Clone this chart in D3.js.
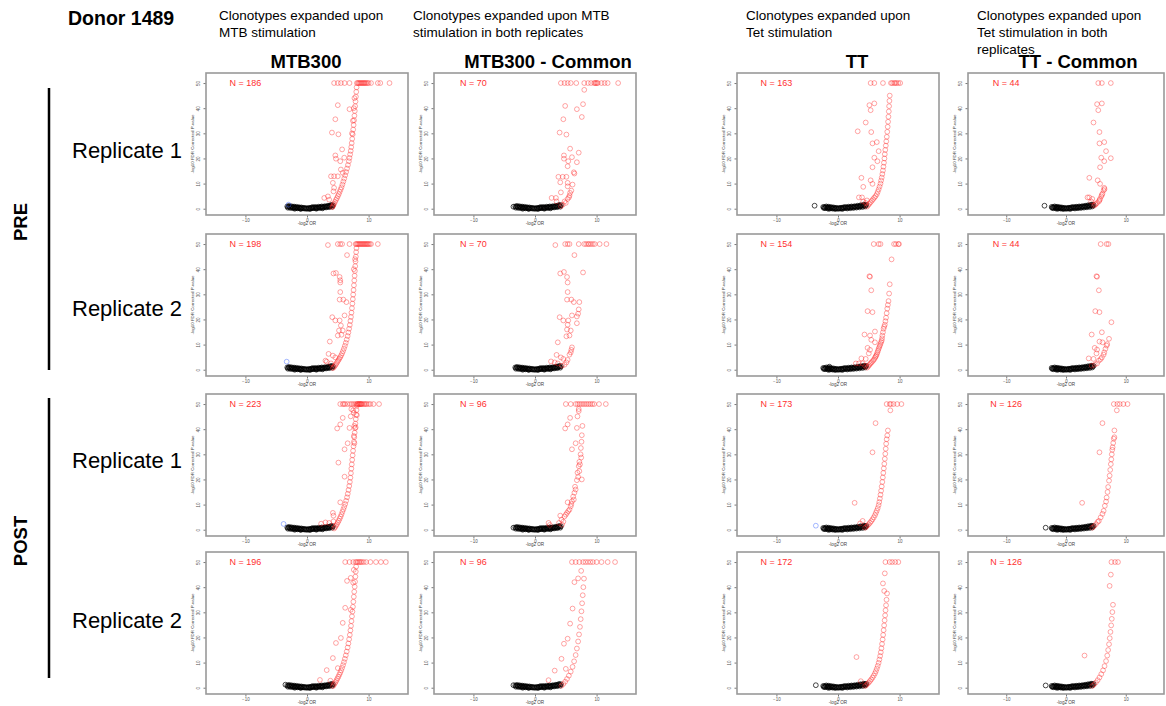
<!DOCTYPE html>
<html>
<head>
<meta charset="utf-8">
<script src="https://cdn.jsdelivr.net/npm/d3@7"></script>
<style>
  body { margin: 0; background: #fff; }
  svg { font-family: "Liberation Sans", Arial, sans-serif; }
</style>
</head>
<body>
<svg id="fig" width="1166" height="706"></svg>
<script>
// ---- headers / labels ----
const colNotes = [
  ['Clonotypes expanded upon', 'MTB stimulation'],
  ['Clonotypes expanded upon MTB', 'stimulation in both replicates'],
  ['Clonotypes expanded upon', 'Tet stimulation'],
  ['Clonotypes expanded upon', 'Tet stimulation in both', 'replicates']
];
const colTitles = ['MTB300', 'MTB300 - Common', 'TT', 'TT - Common'];
const rowNames = ['Replicate 1', 'Replicate 2', 'Replicate 1', 'Replicate 2'];
const groupNames = ['PRE', 'POST'];
const nCounts = [
  [186, 70, 163, 44],
  [198, 70, 154, 44],
  [223, 96, 173, 126],
  [196, 96, 172, 126]
];
const xTicks = [-10, 0, 10];
const yTicks = [0, 10, 20, 30, 40, 50];

// ---- non significant clouds (-log2 OR, -log10 FDR p) ----
const mtbBase = [[-3.2,0.9],[-3.0,0.8],[-2.8,0.7],[-2.6,0.65],[-2.4,0.6],[-2.2,0.55],[-2.0,0.5],[-1.8,0.45],[-1.6,0.4],[-1.4,0.35],[-1.2,0.3],[-1.0,0.25],[-0.8,0.2],[-0.6,0.15],[-0.4,0.1],[-0.2,0.05],[0.0,0.0],[0.2,0.05],[0.4,0.1],[0.6,0.15],[0.8,0.2],[1.0,0.25],[1.2,0.3],[1.4,0.35],[1.6,0.4],[1.8,0.45],[2.0,0.5],[2.2,0.55],[2.4,0.6],[2.6,0.65],[2.8,0.7],[3.0,0.75],[3.2,0.8],[3.4,0.9],[3.6,1.0],[3.8,1.1],[4.0,1.2],[4.2,1.4],
  [-2.7,0.3],[-2.3,0.25],[-1.9,0.2],[-1.5,0.15],[-1.1,0.1],[0.9,0.6],[1.4,0.7],[1.9,0.8],[2.4,0.9],[2.9,1.0],[3.4,1.2],[3.9,1.5],
  [-3.1,0.4],[-2.9,1.1],[-2.5,0.95],[-2.1,0.85],[-1.7,0.75],[-1.3,0.6],[-0.9,0.5],[-0.5,0.35],[-0.1,0.25],[0.3,0.3],[0.7,0.45],[1.1,0.55],[1.6,0.2],[2.1,0.3],[2.6,0.4],[3.1,0.5],[3.6,0.6],[4.1,0.8],[-2.0,0.0],[-1.0,-0.1],[0.5,-0.1],[1.5,0.0],[2.5,0.15]];
const ttBase = [[-2.4,0.7],[-2.2,0.6],[-2.0,0.55],[-1.8,0.5],[-1.6,0.45],[-1.4,0.4],[-1.2,0.35],[-1.0,0.3],[-0.8,0.25],[-0.6,0.2],[-0.4,0.12],[-0.2,0.06],[0.0,0.0],[0.2,0.06],[0.4,0.12],[0.6,0.2],[0.8,0.25],[1.0,0.3],[1.2,0.35],[1.4,0.4],[1.6,0.45],[1.8,0.5],[2.0,0.55],[2.2,0.6],[2.4,0.65],[2.6,0.7],[2.8,0.75],[3.0,0.8],[3.2,0.85],[3.4,0.9],[3.6,1.0],[3.8,1.1],[4.0,1.2],[4.2,1.3],[4.4,1.4],[4.6,1.5],
  [-2.1,0.2],[-1.7,0.15],[-1.3,0.1],[-0.9,0.05],[1.2,0.7],[1.7,0.8],[2.2,0.9],[2.7,1.0],[3.2,1.2],[3.7,1.4],[4.2,1.6],
  [-2.3,0.3],[-1.9,0.9],[-1.5,0.8],[-1.1,0.65],[-0.7,0.5],[-0.3,0.35],[0.1,0.3],[0.5,0.4],[0.9,0.55],[1.5,0.1],[2.0,0.2],[2.5,0.3],[3.0,0.45],[3.5,0.55],[4.0,0.7],[4.4,0.9],[-1.5,-0.05],[-0.5,-0.1],[0.7,-0.1]];

// ---- PRE replicate 1 ----
const p11Cap = [4.4,5.0,5.5,6.1,6.9,8.1,8.25,8.4,8.55,8.7,8.85,9.0,9.15,9.3,9.45,9.6,9.8,10.0,10.4,11.5,11.9,13.4];
const p11Sig = [[4.1,0.6],[4.2,1.0],[4.3,1.5],[4.4,2.0],[4.55,2.7],[4.7,3.5],[4.85,4.2],[5.0,5.0],[5.15,5.8],[5.3,6.7],[5.45,7.6],[5.6,8.5],[5.75,9.6],[5.9,10.8],[6.05,12.0],[6.2,13.3],[6.35,14.6],[6.5,16.0],[6.65,17.4],[6.8,18.9],[6.9,20.2],[7.0,21.6],[7.1,23.0],[7.18,24.5],[7.26,26.1],[7.34,27.8],[7.42,29.6],[7.5,31.5],[7.57,33.3],[7.64,35.2],[7.7,37.0],[7.76,38.9],[7.82,40.8],[7.88,42.7],[7.94,44.6],[8.0,46.5],[8.05,48.3],
  [5.0,41.2],[4.6,35.6],[4.05,30.3],[5.1,29.6],[5.7,23.6],[4.6,21.2],[4.7,19.9],[5.4,18.9],[6.05,20.3],[6.9,39.6],[3.9,12.9],[4.4,12.9],[5.0,12.9],[4.2,10.3],[2.8,4.3],[3.4,4.9],[5.5,15.6],[5.8,14.3],[4.4,8.3],[4.3,6.9],[3.6,3.6],[7.45,35],[7.6,40],[7.7,44],[7.3,30]];
const p11Down = [[-3.0,1.6]];

const p12Cap = [4.2,4.8,5.3,5.8,6.7,8.0,8.6,9.1,9.6,9.75,9.9,10.05,10.2,10.8,11.3,11.8,13.5];
const p12Sig = [[8.0,47.3],[7.8,41.6],[4.9,40.9],[6.8,39.6],[7.6,36.5],[4.6,35.6],[4.0,30.3],[5.1,29.5],[5.7,23.9],[7.1,22.3],[4.7,21.2],[4.7,19.9],[6.0,20.5],[5.4,18.9],[6.8,18.5],[5.3,16.9],[6.3,14.5],[6.4,14.0],[3.8,12.7],[4.5,12.7],[5.1,12.7],[4.1,10.5],[5.3,10.3],[5.3,8.9],[6.1,9.6],[4.2,6.5],[5.7,6.3],[5.6,5.2],[5.3,3.9],[2.7,4.3],[3.4,4.3],[3.5,2.9],[5.0,2.3],[4.5,1.6],[4.8,2.9],[5.9,7.2],[5.5,4.5],[4.2,1.0]];
const p12Low = [[-3.5,0.8]];

const p13Cap = [5.3,5.9,7.3,8.6,8.8,9.1,9.3,9.5,9.8,10.1];
const p13Sig = [[4.7,0.8],[4.9,1.4],[5.1,2.0],[5.3,2.6],[5.5,3.2],[5.7,3.8],[5.9,4.4],[6.1,5.0],[6.3,5.8],[6.45,6.7],[6.6,7.7],[6.75,8.8],[6.9,10.0],[7.0,11.2],[7.1,12.4],[7.2,13.8],[7.3,15.2],[7.38,16.7],[7.46,18.3],[7.54,20.0],[7.6,21.7],[7.68,23.4],[7.76,25.1],[7.84,26.8],[7.92,28.6],[8.0,30.6],[8.07,32.6],[8.13,34.6],[8.19,36.6],[8.25,38.7],[8.3,40.8],[8.35,42.9],[8.4,45.0],
  [5.1,41.2],[5.9,41.9],[5.3,39.2],[4.5,34.3],[3.2,30.8],[5.4,30.5],[5.6,26.0],[6.3,26.5],[6.6,22.9],[5.9,20.3],[6.4,18.9],[5.6,16.5],[3.8,12.3],[5.3,11.3],[4.1,8.7],[5.6,9.9],[3.4,4.5],[3.9,4.5],[4.1,2.9],[4.5,2.3],[4.7,3.3]];
const p13Low = [[-3.8,1.2]];

const p14Cap = [5.4,6.0,7.5];
const p14Sig = [[5.2,41.6],[6.0,41.9],[5.4,39.2],[4.6,34.3],[5.6,30.5],[5.6,26.0],[6.4,26.5],[6.7,22.9],[5.9,20.3],[6.4,18.9],[7.5,20.1],[5.7,16.5],[3.9,12.3],[5.3,11.3],[5.7,9.9],[3.6,4.5],[3.9,4.5],[4.2,2.9],[4.4,3.9],[4.9,1.6],[5.2,2.3],[5.5,2.9],[5.7,3.9],[5.9,4.9],[6.1,6.0],[6.3,7.3],[6.4,8.3],[6.45,7.8],[6.0,5.5],[5.6,3.4],[5.0,1.9],[4.7,1.2]];
const p14Low = [[-3.6,1.2]];

// ---- PRE replicate 2 ----
const p21Cap = [5.0,5.4,5.7,6.9,7.9,8.05,8.2,8.35,8.5,8.65,8.8,8.95,9.1,9.25,9.4,9.55,9.7,9.85,10.0,10.2,10.4,11.5];
const p21Sig = [[4.2,0.6],[4.35,1.0],[4.5,1.5],[4.65,2.0],[4.8,2.6],[4.95,3.2],[5.1,3.8],[5.25,4.4],[5.4,5.0],[5.55,5.7],[5.7,6.5],[5.85,7.4],[6.0,8.4],[6.15,9.5],[6.3,10.7],[6.45,12.0],[6.6,13.4],[6.72,14.8],[6.84,16.3],[6.95,17.8],[7.05,19.4],[7.14,21.0],[7.22,22.7],[7.3,24.5],[7.37,26.3],[7.44,28.1],[7.5,29.9],[7.56,31.7],[7.62,33.6],[7.68,35.5],[7.73,37.4],[7.78,39.3],[7.83,41.2],[7.88,43.1],[7.93,45.0],[7.98,46.8],[8.03,48.4],
  [3.4,49.6],[6.5,45.6],[4.7,38.5],[4.3,38.3],[5.3,36.9],[5.4,35.6],[5.4,34.7],[5.4,30.9],[5.3,27.9],[5.9,27.9],[6.4,26.9],[6.1,21.6],[4.1,20.9],[4.6,19.6],[5.3,19.6],[5.5,17.6],[5.2,15.6],[5.8,15.6],[5.0,13.6],[5.6,13.9],[3.7,11.2],[3.5,6.3],[4.2,5.6],[4.6,4.9],[3.0,3.6],[3.2,3.2],[3.9,2.5],[7.6,40],[7.8,44]];
const p21Down = [[-3.3,3.2]];

const p22Cap = [4.9,5.3,5.6,7.1,8.0,8.3,8.6,8.8,9.1,9.4,9.7,10.5,11.6];
const p22Sig = [[3.3,49.6],[6.4,45.6],[4.1,38.3],[4.7,38.9],[7.8,38.7],[5.2,36.9],[5.3,34.7],[5.3,30.9],[5.2,27.9],[5.9,27.9],[6.3,26.9],[7.2,26.9],[7.1,24.0],[7.0,22.3],[6.8,21.2],[6.0,21.6],[4.0,20.9],[4.6,19.6],[5.4,19.6],[6.8,18.5],[5.3,17.9],[5.2,16.0],[5.8,15.6],[5.1,13.3],[5.6,13.6],[3.7,10.9],[6.0,8.9],[5.9,7.9],[5.8,6.9],[5.6,6.0],[3.5,5.9],[4.2,4.9],[4.6,4.3],[2.6,3.3],[3.2,2.9],[3.7,2.5],[5.3,3.9],[5.1,2.9],[4.8,2.0],[4.4,1.6]];

const p23Cap = [5.8,6.6,6.9,9.1,9.4,9.8,9.9];
const p23Sig = [[4.7,0.8],[4.9,1.3],[5.05,1.8],[5.2,2.3],[5.35,2.7],[5.5,3.1],[5.7,3.6],[5.85,4.1],[6.0,4.7],[6.1,5.2],[6.2,5.6],[6.3,6.2],[6.4,6.9],[6.5,7.6],[6.6,8.3],[6.7,9.0],[6.8,9.6],[6.9,10.3],[7.0,11.0],[7.1,11.6],[7.15,12.5],[7.2,13.6],[7.3,14.9],[7.4,16.3],[7.5,17.1],[7.6,17.9],[7.7,19.3],[7.8,20.7],[7.9,22.5],[8.0,24.3],[8.1,25.8],[8.2,27.3],[8.3,30.3],[8.4,34.0],[8.7,43.9],
  [5.1,37.2],[5.2,37.0],[5.4,31.6],[4.8,23.3],[5.6,22.9],[4.3,14.0],[5.2,13.6],[6.0,15.2],[5.4,11.9],[6.0,10.9],[4.8,8.7],[5.2,7.9],[5.0,6.5],[3.8,4.5],[4.5,4.3],[2.9,2.5],[3.4,2.5],[4.0,2.5],[4.4,1.6]];
const p23Low = [[-1.4,1.2]];

const p24Cap = [5.8,6.8,7.1];
const p24Sig = [[5.1,37.2],[5.2,37.0],[5.5,31.6],[4.9,23.3],[5.6,22.9],[7.6,18.9],[4.3,14.0],[6.0,14.9],[7.2,12.3],[5.6,11.2],[6.1,10.9],[4.8,8.7],[5.2,8.0],[5.1,6.5],[3.8,4.5],[4.6,4.3],[6.8,9.6],[6.6,8.3],[6.4,6.9],[6.3,6.0],[6.0,4.9],[5.5,3.6],[5.2,2.5],[4.8,2.0],[4.3,1.6],[6.9,10.2],[5.8,4.2]];

// ---- POST replicate 1 ----
const p31Cap = [5.4,5.8,6.0,6.2,6.6,7.0,7.3,7.6,7.9,8.1,8.2,8.3,8.4,8.5,8.6,8.7,8.8,8.9,9.1,9.3,9.5,9.7,10.0,10.3,10.8,11.7];
const p31Sig = [[4.4,0.5],[4.55,1.0],[4.7,1.6],[4.85,2.2],[5.0,2.9],[5.15,3.6],[5.3,4.4],[5.45,5.2],[5.6,6.1],[5.75,7.1],[5.9,8.1],[6.05,9.1],[6.2,10.2],[6.35,11.5],[6.5,12.9],[6.62,14.3],[6.74,15.8],[6.86,17.4],[6.96,19.0],[7.05,20.7],[7.13,22.5],[7.2,24.3],[7.27,26.0],[7.34,27.8],[7.41,29.6],[7.48,31.4],[7.55,33.2],[7.62,35.0],[7.68,36.8],[7.74,38.6],[7.8,40.4],[7.86,42.2],[7.92,44.0],[7.98,45.8],[8.04,47.6],[8.1,49.3],
  [8.1,45.6],[7.2,48.0],[7.1,45.1],[5.8,44.5],[5.4,41.9],[4.9,40.3],[6.9,40.5],[7.7,41.3],[7.9,40.7],[7.6,37.3],[7.7,34.4],[6.6,34.4],[6.1,32.0],[5.1,26.7],[6.1,21.1],[5.4,10.9],[4.2,6.7],[4.3,5.6],[3.6,2.7],[3.0,2.9],[2.3,2.4],[4.3,3.3],[7.6,46.5],[7.5,47.5]];
const p31Down = [[-3.8,2.3]];

const p32Cap = [5.0,5.8,6.6,6.9,7.2,7.5,7.8,8.1,8.4,8.7,9.0,9.3,9.6,10.4,11.5];
const p32Sig = [[7.1,48.0],[7.1,47.2],[6.9,45.1],[5.7,44.5],[5.3,41.9],[4.9,40.3],[6.8,40.5],[7.7,41.3],[7.6,37.6],[6.6,34.4],[6.0,32.0],[7.4,30.0],[7.5,28.7],[7.2,27.0],[7.1,25.3],[6.9,22.7],[6.8,19.7],[6.5,17.1],[6.4,14.7],[6.3,12.0],[6.0,11.3],[5.3,10.9],[5.8,9.3],[5.6,8.0],[5.2,6.7],[4.8,5.3],[4.1,5.6],[4.3,4.0],[3.9,2.7],[2.2,2.7],[2.4,1.9],[7.6,20.0],[7.2,23.3],[7.3,26.0],[7.0,21.0],[6.6,16.0],[6.2,13.2],[5.9,10.2],[5.4,7.4],[5.0,6.0],[4.6,3.2],[4.4,2.0],[7.45,32.5],[7.55,35.0]];
const p32Low = [[-3.5,0.8]];

const p33Cap = [7.9,8.4,8.6,9.0,9.6,10.3];
const p33Sig = [[4.4,0.8],[4.6,1.2],[4.8,1.7],[5.0,2.2],[5.2,2.8],[5.4,3.4],[5.6,4.1],[5.8,4.9],[6.0,5.8],[6.15,6.7],[6.3,7.6],[6.45,8.6],[6.6,9.8],[6.7,11.0],[6.8,12.4],[6.9,13.9],[7.0,15.5],[7.1,17.2],[7.2,19.0],[7.28,20.8],[7.36,22.6],[7.44,24.4],[7.52,26.2],[7.6,28.2],[7.68,30.2],[7.75,32.2],[7.82,34.2],[7.9,36.0],[8.0,37.5],[8.1,39.5],
  [8.5,47.5],[6.1,42.4],[5.6,30.8],[2.7,10.7],[3.6,2.5],[4.0,3.5]];
const p33Down = [[-3.6,1.6]];

const p34Cap = [8.0,8.6,9.0,9.6,10.3];
const p34Sig = [[4.4,0.8],[4.7,1.4],[5.0,2.2],[5.3,3.1],[5.5,3.5],[5.8,4.9],[6.1,6.3],[6.3,7.5],[6.5,9.5],[6.7,11.2],[6.8,12.8],[6.95,15.0],[7.05,17.0],[7.2,19.5],[7.3,21.5],[7.4,23.8],[7.5,26.1],[7.58,28.0],[7.66,30.0],[7.74,31.8],[7.8,32.8],[7.9,34.5],[8.0,36.2],[8.1,36.8],[8.1,39.5],
  [8.5,47.5],[6.1,42.4],[5.6,30.8],[2.7,10.7]];
const p34Low = [[-3.4,0.8]];

// ---- POST replicate 2 ----
const p41Cap = [6.2,6.9,7.5,7.9,8.1,8.3,8.5,8.7,8.9,9.2,9.6,10.3,11.2,12.0,12.8];
const p41Sig = [[4.2,0.6],[4.35,1.1],[4.5,1.7],[4.65,2.3],[4.8,3.0],[4.95,3.7],[5.1,4.4],[5.25,5.2],[5.4,6.0],[5.55,6.9],[5.7,7.9],[5.85,9.0],[6.0,10.2],[6.15,11.5],[6.3,12.9],[6.45,14.4],[6.6,16.0],[6.72,17.6],[6.84,19.3],[6.95,21.0],[7.05,22.8],[7.14,24.6],[7.22,26.5],[7.3,28.4],[7.38,30.3],[7.46,32.2],[7.53,34.2],[7.6,36.2],[7.67,38.2],[7.74,40.2],[7.8,42.2],[7.86,44.2],[7.92,46.2],[7.98,48.2],
  [7.6,46.9],[7.1,43.7],[7.5,41.8],[6.5,42.5],[6.2,31.8],[7.1,31.0],[5.8,25.8],[5.5,19.8],[4.7,17.8],[4.2,11.8],[5.0,7.8],[3.2,7.0],[2.1,3.1],[3.8,2.8]];
const p41Low = [[-3.5,1.2]];

const p42Cap = [6.0,6.6,7.2,7.8,8.2,8.6,9.0,9.4,10.0,10.8,11.8,13.0];
const p42Sig = [[4.3,0.8],[4.6,1.5],[4.9,2.4],[5.2,3.5],[5.5,4.8],[5.8,6.4],[6.1,8.3],[6.35,10.5],[6.6,13.0],[6.8,15.6],[7.0,18.4],[7.15,21.2],[7.3,24.2],[7.42,27.3],[7.54,30.4],[7.65,33.6],[7.75,36.8],[7.85,40.0],[7.95,43.4],
  [7.5,46.5],[7.0,43.5],[6.4,42.0],[6.1,31.5],[5.7,25.5],[5.3,19.5],[4.7,17.5],[4.3,11.5],[5.0,7.5],[3.2,6.8],[2.2,3.0]];
const p42Low = [[-3.5,1.0]];

const p43Cap = [7.7,8.4,8.8,9.3,9.8];
const p43Sig = [[4.4,0.7],[4.6,1.1],[4.8,1.6],[5.0,2.1],[5.2,2.7],[5.4,3.3],[5.6,4.0],[5.8,4.8],[6.0,5.7],[6.15,6.6],[6.3,7.6],[6.45,8.7],[6.6,9.9],[6.72,11.2],[6.84,12.6],[6.95,14.1],[7.05,15.7],[7.15,17.4],[7.25,19.2],[7.33,21.0],[7.41,22.9],[7.49,24.8],[7.57,26.8],[7.65,28.8],[7.72,30.8],[7.8,32.8],[7.88,35.0],[7.96,37.5],
  [7.6,45.5],[7.3,41.5],[7.5,38.5],[3.0,12.2],[3.7,2.6]];
const p43Low = [[-3.6,1.0]];

const p44Cap = [7.6,8.2,8.7];
const p44Sig = [[4.4,0.7],[4.7,1.3],[5.0,2.1],[5.3,3.0],[5.6,4.1],[5.9,5.4],[6.2,6.9],[6.45,8.6],[6.7,10.6],[6.9,12.8],[7.05,15.0],[7.2,17.3],[7.32,19.7],[7.44,22.2],[7.56,24.8],[7.66,27.4],[7.76,30.1],[7.86,33.0],
  [7.5,45.0],[7.3,40.5],[3.1,12.8]];
const p44Low = [[-3.4,0.9]];

// panel table built from the arrays above
const panels = [
  {r:0, c:0, cap:p11Cap, sig:p11Sig, base:mtbBase, low:[], down:p11Down},
  {r:0, c:1, cap:p12Cap, sig:p12Sig, base:mtbBase, low:p12Low, down:[]},
  {r:0, c:2, cap:p13Cap, sig:p13Sig, base:ttBase, low:p13Low, down:[]},
  {r:0, c:3, cap:p14Cap, sig:p14Sig, base:ttBase, low:p14Low, down:[]},
  {r:1, c:0, cap:p21Cap, sig:p21Sig, base:mtbBase, low:[], down:p21Down},
  {r:1, c:1, cap:p22Cap, sig:p22Sig, base:mtbBase, low:[], down:[]},
  {r:1, c:2, cap:p23Cap, sig:p23Sig, base:ttBase, low:p23Low, down:[]},
  {r:1, c:3, cap:p24Cap, sig:p24Sig, base:ttBase, low:[], down:[]},
  {r:2, c:0, cap:p31Cap, sig:p31Sig, base:mtbBase, low:[], down:p31Down},
  {r:2, c:1, cap:p32Cap, sig:p32Sig, base:mtbBase, low:p32Low, down:[]},
  {r:2, c:2, cap:p33Cap, sig:p33Sig, base:ttBase, low:[], down:p33Down},
  {r:2, c:3, cap:p34Cap, sig:p34Sig, base:ttBase, low:p34Low, down:[]},
  {r:3, c:0, cap:p41Cap, sig:p41Sig, base:mtbBase, low:p41Low, down:[]},
  {r:3, c:1, cap:p42Cap, sig:p42Sig, base:mtbBase, low:p42Low, down:[]},
  {r:3, c:2, cap:p43Cap, sig:p43Sig, base:ttBase, low:p43Low, down:[]},
  {r:3, c:3, cap:p44Cap, sig:p44Sig, base:ttBase, low:p44Low, down:[]}
];

const svg = d3.select('#fig');

const colLeft = [206, 434, 737, 968];
const colWidth = [202, 202, 202, 196];
const rowTop = [73, 234, 394, 552];
const panelH = 142;
const capValue = 50;

// ---- top headers ----
svg.append('text')
  .attr('x', 68).attr('y', 25)
  .attr('font-size', 19.5).attr('font-weight', 'bold')
  .text('Donor 1489');

const noteX = [219, 413, 746, 977];
colNotes.forEach((lines, i) => {
  lines.forEach((line, j) => {
    svg.append('text')
      .attr('x', noteX[i]).attr('y', 20 + j * 17)
      .attr('font-size', 13.5)
      .text(line);
  });
});

const titleX = [306, 548, 857, 1078];
colTitles.forEach((t, i) => {
  svg.append('text')
    .attr('x', titleX[i]).attr('y', 68)
    .attr('text-anchor', 'middle')
    .attr('font-size', 18.5).attr('font-weight', 'bold')
    .text(t);
});

// ---- row labels ----
const rowCenter = [150, 308, 460, 620];
rowNames.forEach((t, i) => {
  svg.append('text')
    .attr('x', 72).attr('y', rowCenter[i] + 7.5)
    .attr('font-size', 22)
    .text(t);
});

const groupSpan = [[88, 370], [398, 678]];
const groupMid = [222, 541];
groupNames.forEach((t, i) => {
  const [y0, y1] = groupSpan[i];
  svg.append('line')
    .attr('x1', 49).attr('x2', 49).attr('y1', y0).attr('y2', y1)
    .attr('stroke', '#000').attr('stroke-width', 2.5);
  svg.append('text')
    .attr('transform', `translate(27, ${groupMid[i]}) rotate(-90)`)
    .attr('text-anchor', 'middle')
    .attr('font-size', 18.5).attr('font-weight', 'bold')
    .text(t);
});

// ---- panels ----
panels.forEach(p => {
  const w = colWidth[p.c];
  const g = svg.append('g')
    .attr('transform', `translate(${colLeft[p.c]}, ${rowTop[p.r]})`);

  const x = d3.scaleLinear().domain([-16.4, 16.4]).range([0, w]);
  const y = d3.scaleLinear().domain([-2.5, 54]).range([panelH, 0]);

  const xAxisG = g.append('g')
    .attr('transform', `translate(0, ${panelH})`)
    .call(d3.axisBottom(x).tickValues(xTicks).tickSize(2.5).tickPadding(1));
  xAxisG.select('.domain').remove();
  xAxisG.selectAll('line').attr('stroke', '#777');
  xAxisG.selectAll('text').attr('font-size', 4.5).attr('fill', '#555');

  const yAxisG = g.append('g')
    .call(d3.axisLeft(y).tickValues(yTicks).tickSize(2.5));
  yAxisG.select('.domain').remove();
  yAxisG.selectAll('line').attr('stroke', '#777');
  yAxisG.selectAll('text')
    .attr('x', null).attr('dy', null)
    .attr('transform', 'translate(-6, 0) rotate(-90)')
    .attr('text-anchor', 'middle')
    .attr('font-size', 4.5).attr('fill', '#555');

  g.append('text')
    .attr('x', x(0)).attr('y', panelH + 9.5)
    .attr('text-anchor', 'middle')
    .attr('font-size', 4.6).attr('fill', '#444')
    .text('-log2 OR');

  g.append('text')
    .attr('transform', `translate(-12, ${panelH / 2}) rotate(-90)`)
    .attr('text-anchor', 'middle')
    .attr('font-size', 4.4).attr('fill', '#444')
    .text('-log10 FDR Corrected P-value');

  const dot = (data, color, op) => {
    g.append('g').selectAll('circle')
      .data(data)
      .enter()
      .append('circle')
        .attr('cx', d => x(d[0]))
        .attr('cy', d => y(d[1]))
        .attr('r', 2.4)
        .attr('fill', 'none')
        .attr('stroke', color)
        .attr('stroke-opacity', op)
        .attr('stroke-width', 0.8);
  };

  dot(p.base.concat(p.low), '#000', 0.9);
  dot(p.sig.concat(p.cap.map(v => [v, capValue])), '#ff2020', 0.5);
  dot(p.down, '#2050ff', 0.5);

  g.append('rect')
    .attr('width', w).attr('height', panelH)
    .attr('fill', 'none')
    .attr('stroke', '#999').attr('stroke-width', 1.6);

  g.append('text')
    .attr('x', x(-10)).attr('y', y(50))
    .attr('dy', '0.35em')
    .attr('text-anchor', 'middle')
    .attr('font-size', 9).attr('fill', '#ff3030')
    .text(`N = ${nCounts[p.r][p.c]}`);
});
</script>
</body>
</html>
